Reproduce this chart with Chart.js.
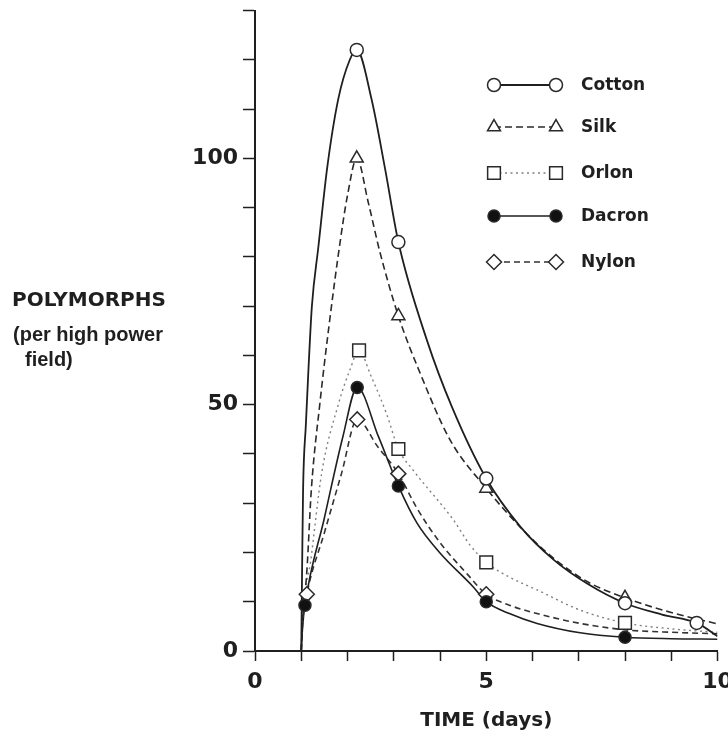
<!DOCTYPE html>
<html lang="en">
<head>
<meta charset="UTF-8">
<title>Polymorphs per high power field</title>
<script src="https://cdn.jsdelivr.net/npm/chart.js"></script>
<style>
  body { margin: 0; background: #fff; }
  .wrap { position: relative; width: 728px; height: 740px; }
</style>
</head>
<body>
<div class="wrap"><canvas id="polyChart"></canvas></div>
<script>
// measured points (the markers)
const cottonX = [2.2, 3.1, 5, 8, 9.55];
const cottonY = [122, 83, 35, 9.7, 5.7];
const silkX = [2.2, 3.1, 5, 8];
const silkY = [100, 68, 33, 10.8];
const orlonX = [2.25, 3.1, 5, 8];
const orlonY = [61, 41, 18, 5.7];
const dacronX = [1.08, 2.21, 3.1, 5, 8];
const dacronY = [9.3, 53.5, 33.5, 10, 2.8];
const nylonX = [1.12, 2.21, 3.1, 5];
const nylonY = [11.5, 47, 36, 11.5];

// fitted curves
const cottonCurveX = [1, 1.02, 1.04, 1.1, 1.15, 1.23, 1.37, 1.56, 1.8, 2.05, 2.2, 2.52, 2.81, 3.1, 3.72, 4.26, 5, 5.74, 6.46, 7.18, 8, 8.8, 9.55, 10];
const cottonCurveY = [0, 18, 33, 46, 56, 70, 82, 98, 112, 120, 122, 112, 98, 83, 63, 49.5, 35, 25.2, 18.5, 13.7, 9.7, 7.4, 5.7, 3];
const silkCurveX = [1, 1.03, 1.12, 1.22, 1.4, 1.6, 1.84, 2.0, 2.2, 2.45, 2.7, 3.1, 3.57, 4.22, 5, 5.8, 6.5, 7.2, 8, 9, 10];
const silkCurveY = [0, 6, 16, 33, 50, 66, 83, 92.5, 100, 91, 81, 68, 56.4, 42.8, 33, 24.5, 18.5, 14, 10.8, 7.8, 5.5];
const orlonCurveX = [1, 1.03, 1.2, 1.44, 1.8, 2.05, 2.25, 2.5, 2.85, 3.1, 3.42, 4.29, 4.65, 5, 5.5, 6.1, 7.03, 8, 9, 10];
const orlonCurveY = [0, 7, 18, 36, 50, 57, 61, 56, 48, 41, 36.7, 26.6, 21.5, 18, 15, 12.4, 8.3, 5.7, 4.5, 3.8];
const dacronCurveX = [1, 1.03, 1.08, 1.5, 1.9, 2.21, 2.67, 3.1, 3.5, 4.0, 4.72, 5, 5.5, 6.1, 7.03, 8, 9, 10];
const dacronCurveY = [0, 5, 9.3, 27, 43.5, 53.5, 43.5, 33.5, 26, 19.9, 13, 10, 7.6, 5.6, 3.7, 2.8, 2.5, 2.4];
const nylonCurveX = [1, 1.03, 1.12, 1.5, 1.87, 2.21, 2.65, 3.1, 3.5, 4.0, 4.6, 5, 5.5, 6.1, 7.03, 8, 9, 10];
const nylonCurveY = [0, 6, 11.5, 24, 36, 47, 41.5, 36, 29, 22, 15.5, 11.5, 9.3, 7.6, 5.6, 4.3, 3.8, 3.5];

const fabricNames = ['Cotton', 'Silk', 'Orlon', 'Dacron', 'Nylon'];

const ink = '#1f1f1f';

function pts(xs, ys) {
    return xs.map((x, i) => ({ x: x, y: ys[i] }));
}

// look of each fabric: marker, fill, dash
const styles = [
    { point: 'circle', radius: 6.5, fill: '#fff', dash: [], color: ink, width: 1.8 },
    { point: 'triangle', radius: 7.5, fill: '#fff', dash: [7, 4], color: '#2a2a2a', width: 1.6 },
    { point: 'rect', radius: 9, fill: '#fff', dash: [2, 3.5], color: '#808080', width: 1.4 },
    { point: 'circle', radius: 6, fill: '#111', dash: [], color: ink, width: 1.6 },
    { point: 'rectRot', radius: 7.5, fill: '#fff', dash: [6, 4], color: '#333', width: 1.6 }
];

const markSets = [pts(cottonX, cottonY), pts(silkX, silkY), pts(orlonX, orlonY), pts(dacronX, dacronY), pts(nylonX, nylonY)];
const curveSets = [pts(cottonCurveX, cottonCurveY), pts(silkCurveX, silkCurveY), pts(orlonCurveX, orlonCurveY),
    pts(dacronCurveX, dacronCurveY), pts(nylonCurveX, nylonCurveY)];

const datasets = [];
fabricNames.forEach((name, i) => {
    const s = styles[i];
    datasets.push({
        label: name + ' curve',
        type: 'line',
        data: curveSets[i],
        showLine: true,
        borderColor: s.color,
        borderWidth: s.width,
        borderDash: s.dash,
        pointRadius: 0,
        cubicInterpolationMode: 'monotone',
        fill: false,
        order: 2
    });
    datasets.push({
        label: name,
        data: markSets[i],
        showLine: false,
        pointStyle: s.point,
        pointRadius: s.radius,
        pointBackgroundColor: s.fill,
        pointBorderColor: '#2a2a2a',
        pointBorderWidth: 1.5,
        order: 1
    });
});

// y-axis caption and the legend box, drawn the way the figure has them
const legendRowY = [85, 127, 173, 216, 262];
const sideText = {
    id: 'sideText',
    afterDraw(chart) {
        const ctx = chart.ctx;
        ctx.save();
        ctx.fillStyle = ink;
        ctx.textAlign = 'left';
        ctx.textBaseline = 'alphabetic';
        ctx.font = 'bold 20px "DejaVu Sans"';
        ctx.fillText('POLYMORPHS', 12, 306);
        ctx.font = 'bold 20px "Liberation Sans"';
        ctx.fillText('(per high power', 13, 341);
        ctx.fillText('field)', 25, 366);

        fabricNames.forEach((name, i) => {
            const s = styles[i];
            const y = legendRowY[i];
            ctx.beginPath();
            ctx.setLineDash(s.dash);
            ctx.strokeStyle = s.color;
            ctx.lineWidth = s.width;
            ctx.moveTo(494, y);
            ctx.lineTo(556, y);
            ctx.stroke();
            ctx.setLineDash([]);
            ctx.strokeStyle = '#2a2a2a';
            ctx.lineWidth = 1.5;
            ctx.fillStyle = s.fill;
            [494, 556].forEach(px => {
                Chart.helpers.drawPoint(ctx, { pointStyle: s.point, radius: s.radius, rotation: 0, borderWidth: 1.5 }, px, y);
            });
            ctx.fillStyle = ink;
            ctx.font = 'bold 17px "DejaVu Sans"';
            ctx.textBaseline = 'middle';
            ctx.fillText(name, 581, y + 1);
        });
        ctx.restore();
    }
};

const tickFont = { family: '"DejaVu Sans"', size: 22, weight: 'bold' };

new Chart(document.getElementById('polyChart'), {
    type: 'scatter',
    data: { datasets: datasets },
    options: {
        responsive: true,
        maintainAspectRatio: false,
        animation: false,
        layout: { padding: { top: 9, right: 10, left: 0, bottom: 0 } },
        plugins: {
            legend: { display: false },
            tooltip: { enabled: false }
        },
        scales: {
            x: {
                type: 'linear',
                min: 0,
                max: 10,
                ticks: {
                    stepSize: 1,
                    autoSkip: false,
                    maxRotation: 0,
                    padding: 8,
                    color: ink,
                    font: tickFont,
                    callback: v => (v % 5 === 0 ? v : '')
                },
                grid: { drawOnChartArea: false, tickLength: 10, tickColor: ink, tickWidth: 1.5 },
                border: { color: ink, width: 2 },
                title: {
                    display: true,
                    text: 'TIME (days)',
                    color: ink,
                    font: { family: '"DejaVu Sans"', size: 20, weight: 'bold' },
                    padding: { top: 0, bottom: 7 }
                },
                afterFit: s => { s.height = 89; s.paddingLeft = 0; s.paddingRight = 0; }
            },
            y: {
                min: 0,
                max: 130,
                ticks: {
                    stepSize: 10,
                    autoSkip: false,
                    padding: 5,
                    color: ink,
                    font: tickFont,
                    callback: v => (v % 50 === 0 ? v : '')
                },
                grid: { drawOnChartArea: false, tickLength: 12, tickColor: ink, tickWidth: 1.5 },
                border: { color: ink, width: 2 },
                afterFit: s => { s.width = 255; s.paddingTop = 0; s.paddingBottom = 0; }
            }
        }
    },
    plugins: [sideText]
});
</script>
</body>
</html>
